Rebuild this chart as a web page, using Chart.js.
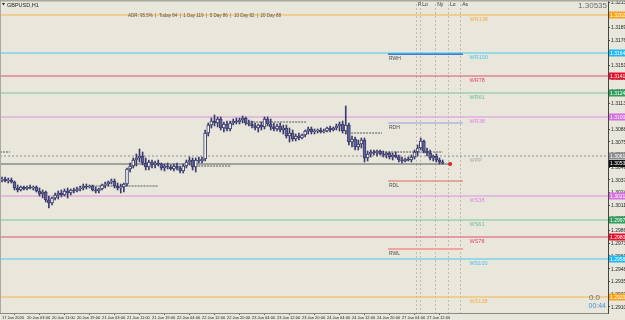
<!DOCTYPE html>
<html>
<head>
<meta charset="utf-8">
<script src="https://cdn.jsdelivr.net/npm/chart.js@4/dist/chart.umd.min.js"></script>
<style>
  html, body { margin: 0; padding: 0; background: #e9e7dc; overflow: hidden; }
  #wrap { width: 625px; height: 320px; }
</style>
</head>
<body>
<div id="wrap"><canvas id="c" width="625" height="320"></canvas></div>
<script>
// GBPUSD H1, 17-27 Jan 2020 : bougies + pivots hebdo fibo + ranges.
const symbol = 'GBPUSD,H1';
const bid = 1.30535;

// OHLC par barre (index 0 = 17 Jan 19:00)
const opens = [
  1.3037,1.3038,1.3036,1.3037,1.3035,1.3029,1.3027,1.3030,1.3028,1.3030,
  1.3029,1.3030,1.3026,1.3023,1.3025,1.3017,1.3014,1.3019,1.3022,1.3024,
  1.3022,1.3026,1.3024,1.3027,1.3026,1.3028,1.3029,1.3031,1.3030,1.3031,
  1.3027,1.3026,1.3028,1.3032,1.3033,1.3035,1.3036,1.3031,1.3029,1.3030,
  1.3033,1.3048,1.3051,1.3057,1.3059,1.3061,1.3054,1.3050,1.3055,1.3052,
  1.3054,1.3053,1.3049,1.3051,1.3050,1.3048,1.3051,1.3049,1.3046,1.3051,
  1.3055,1.3057,1.3050,1.3057,1.3056,1.3058,1.3084,1.3092,1.3096,1.3094,
  1.3098,1.3089,1.3093,1.3088,1.3094,1.3096,1.3095,1.3097,1.3099,1.3094,
  1.3093,1.3091,1.3089,1.3092,1.3090,1.3098,1.3093,1.3090,1.3088,1.3091,
  1.3087,1.3089,1.3081,1.3084,1.3078,1.3081,1.3079,1.3082,1.3086,1.3088,
  1.3085,1.3086,1.3087,1.3085,1.3086,1.3089,1.3087,1.3089,1.3091,1.3093,
  1.3086,1.3092,1.3075,1.3078,1.3070,1.3073,1.3077,1.3059,1.3063,1.3065,
  1.3064,1.3066,1.3063,1.3062,1.3064,1.3060,1.3062,1.3060,1.3057,1.3056,
  1.3058,1.3057,1.3060,1.3065,1.3069,1.3076,1.3066,1.3064,1.3059,1.3061,
  1.3057,1.3055];
const highs = [
  1.3040,1.3040,1.3039,1.3039,1.3036,1.3032,1.3031,1.3031,1.3031,1.3032,
  1.3031,1.3031,1.3029,1.3027,1.3026,1.3021,1.3020,1.3024,1.3026,1.3027,
  1.3028,1.3029,1.3028,1.3029,1.3030,1.3031,1.3033,1.3033,1.3032,1.3032,
  1.3030,1.3029,1.3033,1.3035,1.3036,1.3038,1.3038,1.3034,1.3033,1.3034,
  1.3049,1.3054,1.3059,1.3063,1.3068,1.3065,1.3059,1.3057,1.3057,1.3056,
  1.3057,1.3054,1.3053,1.3054,1.3052,1.3053,1.3054,1.3051,1.3053,1.3057,
  1.3060,1.3059,1.3059,1.3060,1.3060,1.3087,1.3094,1.3099,1.3102,1.3100,
  1.3100,1.3095,1.3096,1.3096,1.3098,1.3099,1.3099,1.3101,1.3100,1.3097,
  1.3096,1.3094,1.3093,1.3095,1.3100,1.3100,1.3098,1.3094,1.3093,1.3094,
  1.3092,1.3092,1.3089,1.3087,1.3083,1.3084,1.3083,1.3087,1.3090,1.3090,
  1.3088,1.3088,1.3089,1.3088,1.3090,1.3091,1.3090,1.3093,1.3095,1.3096,
  1.3111,1.3094,1.3081,1.3080,1.3077,1.3079,1.3079,1.3066,1.3067,1.3067,
  1.3067,1.3067,1.3066,1.3065,1.3065,1.3064,1.3065,1.3062,1.3060,1.3059,
  1.3060,1.3062,1.3067,1.3072,1.3079,1.3077,1.3069,1.3067,1.3062,1.3063,
  1.3059,1.3057];
const lows = [
  1.3035,1.3035,1.3034,1.3034,1.3027,1.3025,1.3026,1.3027,1.3027,1.3028,
  1.3027,1.3025,1.3021,1.3019,1.3015,1.3009,1.3012,1.3017,1.3018,1.3020,
  1.3021,1.3019,1.3022,1.3024,1.3025,1.3026,1.3027,1.3028,1.3029,1.3026,
  1.3024,1.3024,1.3027,1.3029,1.3031,1.3033,1.3029,1.3027,1.3024,1.3025,
  1.3031,1.3045,1.3049,1.3051,1.3055,1.3052,1.3047,1.3047,1.3049,1.3049,
  1.3051,1.3047,1.3046,1.3048,1.3047,1.3046,1.3047,1.3044,1.3044,1.3049,
  1.3052,1.3047,1.3045,1.3054,1.3054,1.3056,1.3081,1.3089,1.3091,1.3090,
  1.3087,1.3085,1.3086,1.3086,1.3092,1.3093,1.3093,1.3094,1.3092,1.3091,
  1.3089,1.3087,1.3085,1.3087,1.3088,1.3091,1.3087,1.3086,1.3086,1.3085,
  1.3083,1.3079,1.3075,1.3076,1.3076,1.3077,1.3078,1.3080,1.3083,1.3083,
  1.3083,1.3084,1.3084,1.3084,1.3085,1.3085,1.3086,1.3087,1.3086,1.3084,
  1.3083,1.3072,1.3070,1.3067,1.3067,1.3069,1.3055,1.3056,1.3060,1.3062,
  1.3061,1.3062,1.3060,1.3059,1.3058,1.3057,1.3059,1.3055,1.3054,1.3055,
  1.3056,1.3055,1.3058,1.3061,1.3067,1.3064,1.3061,1.3057,1.3056,1.3055,
  1.3053,1.3053];
const closes = [
  1.3038,1.3036,1.3037,1.3035,1.3029,1.3027,1.3030,1.3028,1.3030,1.3029,
  1.3030,1.3026,1.3023,1.3025,1.3017,1.3014,1.3019,1.3022,1.3024,1.3022,
  1.3026,1.3024,1.3027,1.3026,1.3028,1.3029,1.3031,1.3030,1.3031,1.3027,
  1.3026,1.3028,1.3032,1.3033,1.3035,1.3036,1.3031,1.3029,1.3030,1.3033,
  1.3048,1.3051,1.3057,1.3059,1.3061,1.3054,1.3050,1.3055,1.3052,1.3054,
  1.3053,1.3049,1.3051,1.3050,1.3048,1.3051,1.3049,1.3046,1.3051,1.3055,
  1.3057,1.3050,1.3057,1.3056,1.3058,1.3084,1.3092,1.3096,1.3094,1.3098,
  1.3089,1.3093,1.3088,1.3094,1.3096,1.3095,1.3097,1.3099,1.3094,1.3093,
  1.3091,1.3089,1.3092,1.3090,1.3098,1.3093,1.3090,1.3088,1.3091,1.3087,
  1.3089,1.3081,1.3084,1.3078,1.3081,1.3079,1.3082,1.3086,1.3088,1.3085,
  1.3086,1.3087,1.3085,1.3086,1.3089,1.3087,1.3089,1.3091,1.3093,1.3086,
  1.3092,1.3075,1.3078,1.3070,1.3073,1.3077,1.3059,1.3063,1.3065,1.3064,
  1.3066,1.3063,1.3062,1.3064,1.3060,1.3062,1.3060,1.3057,1.3056,1.3058,
  1.3057,1.3060,1.3065,1.3069,1.3076,1.3066,1.3064,1.3059,1.3061,1.3057,
  1.3055,1.3054];

// axe du temps : barres portant un libellé
const xTickBars = [0, 8, 16, 24, 32, 40, 48, 56, 64, 72, 80, 88, 96, 104, 112, 120, 128, 136];
const xTickLabels = ['17 Jan 2020', '20 Jan 03:00', '20 Jan 11:00', '20 Jan 19:00', '21 Jan 03:00', '21 Jan 11:00',
  '21 Jan 19:00', '22 Jan 04:00', '22 Jan 12:00', '22 Jan 20:00', '23 Jan 04:00', '23 Jan 12:00', '23 Jan 20:00',
  '24 Jan 04:00', '24 Jan 12:00', '24 Jan 20:00', '27 Jan 04:00', '27 Jan 12:00'];

// axe des prix
const yTickValues = [1.32150, 1.32023, 1.31896, 1.31769, 1.31642, 1.31515, 1.31388, 1.31261, 1.31134, 1.31007,
  1.30880, 1.30753, 1.30626, 1.30499, 1.30372, 1.30245, 1.30118, 1.29991, 1.29864, 1.29737, 1.29610, 1.29483,
  1.29356, 1.29229, 1.29102];

// pivots hebdo fibo
const levelNames = ['WR138', 'WR100', 'WR78', 'WR61', 'WR38', 'WPP', 'WS38', 'WS61', 'WS78', 'WS100', 'WS138'];
const levelValues = [1.3202, 1.3164, 1.3141, 1.3124, 1.3100, 1.3061, 1.3021, 1.2997, 1.2980, 1.2958, 1.2920];

// ranges jour / semaine
const rangeNames = ['RWH', 'RDH', 'RDL', 'RWL'];
const rangeValues = [1.3163, 1.3094, 1.3036, 1.2968];

// niveaux journaliers (pointillés courts)
const dayValues = [1.3065, 1.3031, 1.3051, 1.3095, 1.3084, 1.3065];
const dayStart = [-0.6, 28, 61.8, 79.4, 109.8, 117.8];
const dayEnd = [2.6, 50, 73, 97.6, 121.6, 141];

// sessions
const sessionNames = ['P.Lo', '', 'Ny', 'Lo', 'As'];
const sessionBars = [132.5, 133.8, 138.6, 142.7, 146.6];

// ADR
const adrPercent = '95.5%';
const adrLabels = ['Today', '1 Day', '5 Day', '10 Day', '20 Day'];
const adrValues = [84, 119, 86, 82, 88];

// --- styles ---
const FONT = "'Liberation Sans', Arial, sans-serif";
const BG = '#e9e7dc';
const X_MIN = -0.64, X_MAX = 193.92;
const Y_MIN = 1.2904, Y_MAX = 1.3217;
const RANGE_FROM = 123.5, RANGE_TO = 147.5, LABEL_BAR = 149.6, LAST_BAR = 143.4;
const EDGE = '#3b3b6d', UP_FILL = '#f6f6f2', DOWN_FILL = '#64649c';
const levelColors = ['#f5b54a', '#4cc8f0', '#e2506a', '#7cc497', '#de8fe2', '#8c8c8c', '#de8fe2', '#7cc497', '#e2506a', '#4cc8f0', '#f5b54a'];
const levelText = ['#f0ae48', '#45c3ee', '#e0485f', '#6fbd8c', '#d987de', '#a8a8a8', '#d987de', '#6fbd8c', '#e0485f', '#45c3ee', '#f0ae48'];
const tagColors = ['#f7a21b', '#22b8f0', '#e8102a', '#2e9e5b', '#d46fe0', '#8c8c8c', '#d46fe0', '#2e9e5b', '#e8102a', '#22b8f0', '#f7a21b'];
const rangeColors = ['#3f7fd8', '#9a9ae0', '#e0685e', '#f3a39b'];
const rangeWidths = [2, 1, 1, 2];

const hline = (v, a = X_MIN, b = X_MAX) => [{ x: a, y: v }, { x: b, y: v }];
const lineDs = (data, color, extra = {}) => ({
  type: 'line', data, borderColor: color, borderWidth: 1, pointRadius: 0, fill: false, tension: 0, order: 5, ...extra,
});

const datasets = [
  { type: 'bar', data: closes.map((c, i) => ({ x: i, y: [opens[i], c] })), grouped: false, barThickness: 3, minBarLength: 1,
    backgroundColor: closes.map((c, i) => (c >= opens[i] ? UP_FILL : DOWN_FILL)), borderColor: EDGE, borderWidth: 1, borderSkipped: false, order: 0 },
  { type: 'bar', data: closes.map((c, i) => ({ x: i, y: [lows[i], highs[i]] })), grouped: false, barThickness: 1,
    backgroundColor: EDGE, order: 1 },
  ...levelValues.map((v, i) => lineDs(hline(v), levelColors[i], levelNames[i] === 'WPP' ? { borderDash: [2, 2] } : {})),
  ...rangeValues.map((v, i) => lineDs(hline(v, RANGE_FROM, RANGE_TO), rangeColors[i], { borderWidth: rangeWidths[i] })),
  ...dayValues.map((v, i) => lineDs(hline(v, dayStart[i], dayEnd[i]), '#555', { borderDash: [2, 1] })),
  lineDs(hline(1.3053, X_MIN, LAST_BAR), '#55625f', { order: 4 }),
  { type: 'line', data: [{ x: LAST_BAR, y: 1.3053 }], showLine: false, pointRadius: 2, pointBackgroundColor: '#e0201e', pointBorderWidth: 0, order: 0 },
];

const overlay = {
  id: 'overlay',
  beforeDraw(chart) {
    const { ctx, width, height } = chart;
    ctx.save(); ctx.fillStyle = BG; ctx.fillRect(0, 0, width, height); ctx.restore();
  },
  beforeDatasetsDraw(chart) {
    const { ctx, chartArea: a, scales: { x } } = chart;
    ctx.save();
    ctx.strokeStyle = '#bdbdb5'; ctx.lineWidth = 1; ctx.setLineDash([2, 2]);
    sessionBars.forEach((b) => {
      const px = Math.round(x.getPixelForValue(b)) + 0.5;
      ctx.beginPath(); ctx.moveTo(px, a.top); ctx.lineTo(px, a.bottom); ctx.stroke();
    });
    ctx.restore();
  },
  afterDraw(chart) {
    const { ctx, chartArea: a, scales: { x, y } } = chart;
    ctx.save();
    ctx.textBaseline = 'top';
    ctx.font = `5.5px ${FONT}`;
    levelNames.forEach((n, i) => { ctx.fillStyle = levelText[i]; ctx.fillText(n, x.getPixelForValue(LABEL_BAR), y.getPixelForValue(levelValues[i]) + 1.5); });
    ctx.font = `5px ${FONT}`; ctx.fillStyle = '#4a4a4a';
    rangeNames.forEach((n, i) => ctx.fillText(n, x.getPixelForValue(RANGE_FROM) + 1, y.getPixelForValue(rangeValues[i]) + 2));
    ctx.fillStyle = '#333';
    sessionNames.forEach((n, i) => { if (n) ctx.fillText(n, x.getPixelForValue(sessionBars[i]) + 2, 2); });

    // graduations de prix (axe droit)
    ctx.textBaseline = 'middle'; ctx.fillStyle = '#222';
    yTickValues.forEach((v) => ctx.fillText(v.toFixed(5), a.right + 3, y.getPixelForValue(v) + 0.5));

    // étiquettes de prix sur l'axe
    const tags = levelValues.map((v, i) => [v, tagColors[i]]).concat([[bid, '#111']]);
    tags.forEach(([v, col]) => {
      const py = y.getPixelForValue(v);
      ctx.fillStyle = col; ctx.fillRect(a.right + 1, py - 3.5, 17, 7);
      ctx.fillStyle = '#fff'; ctx.fillText(v.toFixed(5), a.right + 2, py + 0.5);
    });

    // cadre
    ctx.fillStyle = '#a9a9a2'; ctx.fillRect(0, 0, chart.width, 1.5); ctx.fillRect(0, 0, 1, a.bottom);

    // textes
    ctx.textBaseline = 'top';
    ctx.fillStyle = '#222';
    ctx.beginPath(); ctx.moveTo(2, 3); ctx.lineTo(5, 3); ctx.lineTo(3.5, 5.5); ctx.fill();
    ctx.font = `5.5px ${FONT}`; ctx.fillText(symbol, 7, 2.5);
    ctx.fillStyle = '#555'; ctx.font = `4.5px ${FONT}`;
    ctx.fillText(`ADR: ${adrPercent}  |  ` + adrLabels.map((l, i) => `${l} ${adrValues[i]}`).join('  |  '), 128, 13.5);
    ctx.textAlign = 'right';
    ctx.fillStyle = '#6b6b6b'; ctx.font = `8px ${FONT}`;
    ctx.fillText(bid.toFixed(5), 607, 2);
    ctx.fillText('0.0', 600, 294);
    ctx.fillStyle = '#4b8fd8'; ctx.font = `7px ${FONT}`;
    ctx.fillText('00:44', 606, 303);
    ctx.restore();
  },
};

new Chart(document.getElementById('c'), {
  type: 'bar',
  data: { datasets },
  options: {
    responsive: false,
    animation: false,
    layout: { padding: 0, autoPadding: false },
    plugins: { legend: { display: false }, tooltip: { enabled: false } },
    scales: {
      x: {
        type: 'linear', min: X_MIN, max: X_MAX, offset: false,
        grid: { drawOnChartArea: false, drawTicks: true, tickLength: 2, color: '#666' },
        border: { display: true, color: '#8a8a84', width: 1 },
        ticks: { autoSkip: false, maxRotation: 0, align: 'start', padding: 0, font: { family: FONT, size: 4 }, color: '#222',
          callback: (v, i) => xTickLabels[i] },
        afterBuildTicks: (s) => { s.ticks = xTickBars.map((v) => ({ value: v })); },
        afterFit: (s) => { s.height = 7; s.paddingLeft = 0; s.paddingRight = 0; },
      },
      y: {
        type: 'linear', position: 'right', min: Y_MIN, max: Y_MAX,
        grid: { drawOnChartArea: false, drawTicks: true, tickLength: 2, color: '#444' },
        border: { display: true, color: '#444', width: 1 },
        ticks: { display: false },
        afterBuildTicks: (s) => { s.ticks = yTickValues.map((v) => ({ value: v })); },
        afterFit: (s) => { s.width = 17; s.paddingTop = 0; s.paddingBottom = 0; },
      },
    },
  },
  plugins: [overlay],
});
</script>
</body>
</html>
